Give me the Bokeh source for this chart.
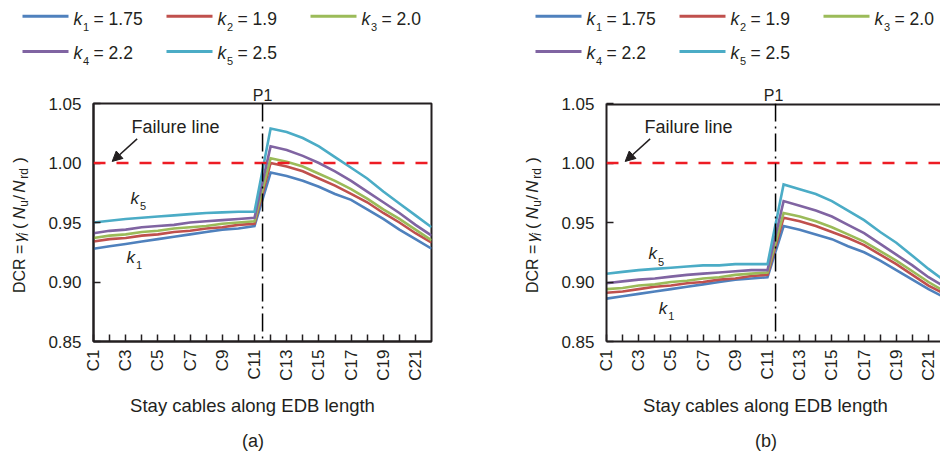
from math import pi
from bokeh.plotting import figure
from bokeh.models import Range1d, FixedTicker, Span, Label, Arrow, NormalHead
from bokeh.layouts import column, row
from bokeh.embed import file_html
from bokeh.resources import INLINE
from bokeh.core.properties import value

# ---------------- data ----------------
cables = list(range(1, 23))
x_tick_labels = ["C1", "", "C3", "", "C5", "", "C7", "", "C9", "", "C11", "",
                 "C13", "", "C15", "", "C17", "", "C19", "", "C21", ""]
y_ticks = [0.85, 0.90, 0.95, 1.00, 1.05]
y_tick_labels = ["0.85", "0.90", "0.95", "1.00", "1.05"]
k_subs = ["1", "2", "3", "4", "5"]
k_values = ["1.75", "1.9", "2.0", "2.2", "2.5"]
failure_dcr = 1.0
p1_position = 11.5

a_k1 = [0.928, 0.930, 0.932, 0.934, 0.936, 0.938, 0.940, 0.942, 0.944, 0.945, 0.947,
        0.992, 0.989, 0.985, 0.980, 0.974, 0.969, 0.961, 0.953, 0.944, 0.936, 0.928]
a_k2 = [0.934, 0.936, 0.937, 0.939, 0.940, 0.942, 0.943, 0.945, 0.946, 0.948, 0.949,
        1.000, 0.997, 0.993, 0.987, 0.981, 0.974, 0.967, 0.958, 0.950, 0.941, 0.933]
a_k3 = [0.937, 0.939, 0.940, 0.942, 0.943, 0.945, 0.946, 0.947, 0.949, 0.950, 0.951,
        1.004, 1.001, 0.997, 0.991, 0.985, 0.978, 0.970, 0.961, 0.953, 0.944, 0.935]
a_k4 = [0.941, 0.943, 0.944, 0.946, 0.947, 0.948, 0.950, 0.951, 0.952, 0.953, 0.954,
        1.014, 1.011, 1.006, 1.000, 0.993, 0.985, 0.976, 0.967, 0.958, 0.948, 0.939]
a_k5 = [0.950, 0.9515, 0.953, 0.954, 0.955, 0.956, 0.957, 0.958, 0.9585, 0.959, 0.959,
        1.029, 1.026, 1.021, 1.014, 1.005, 0.996, 0.987, 0.976, 0.966, 0.956, 0.946]

b_k1 = [0.886, 0.888, 0.890, 0.892, 0.894, 0.896, 0.898, 0.900, 0.902, 0.903, 0.904,
        0.947, 0.944, 0.940, 0.936, 0.930, 0.925, 0.918, 0.910, 0.902, 0.894, 0.887]
b_k2 = [0.891, 0.892, 0.894, 0.896, 0.897, 0.899, 0.900, 0.902, 0.903, 0.905, 0.906,
        0.954, 0.951, 0.947, 0.942, 0.937, 0.931, 0.923, 0.915, 0.906, 0.897, 0.890]
b_k3 = [0.894, 0.895, 0.897, 0.898, 0.900, 0.901, 0.903, 0.904, 0.906, 0.907, 0.908,
        0.958, 0.955, 0.951, 0.946, 0.940, 0.934, 0.926, 0.918, 0.909, 0.900, 0.892]
b_k4 = [0.899, 0.9005, 0.902, 0.903, 0.9045, 0.906, 0.907, 0.908, 0.909, 0.910, 0.910,
        0.968, 0.964, 0.960, 0.955, 0.948, 0.941, 0.932, 0.923, 0.914, 0.904, 0.896]
b_k5 = [0.907, 0.9085, 0.910, 0.911, 0.912, 0.913, 0.914, 0.914, 0.915, 0.915, 0.915,
        0.982, 0.978, 0.974, 0.968, 0.960, 0.952, 0.942, 0.933, 0.922, 0.911, 0.901]

series_a = [a_k1, a_k2, a_k3, a_k4, a_k5]
series_b = [b_k1, b_k2, b_k3, b_k4, b_k5]

colors = ["#4F81BD", "#C0504D", "#9BBB59", "#8064A2", "#4BACC6"]
FONT = "Liberation Sans"
INK = "#231f20"
RED = "#ed1c24"

# ---------------- layout constants (page pixels) ----------------
TOP_H = 80
MID_TOP = TOP_H
MID_H = 390 - TOP_H
BOT_H = 61
FRAME_TOP, FRAME_H = 103, 238
FRAME_BOT = FRAME_TOP + FRAME_H
SCALE = 16.1                    # px per cable
FRAME_LEFT_A, FRAME_LEFT_B = 93, 606


def aux_fig(x0, x1, height, y_range):
    p = figure(width=x1 - x0, height=height, x_range=Range1d(x0, x1), y_range=y_range,
               toolbar_location=None, output_backend="svg", min_border=0,
               x_axis_type=None, y_axis_type=None, outline_line_color=None)
    p.grid.visible = False
    return p


def txt(p, x, y, s, size, style="normal", align="left", angle=0.0):
    p.text(x=[x], y=[y], text=[s], text_font=value(FONT), text_font_size=size,
           text_font_style=style, text_color=INK, text_align=align,
           text_baseline="middle", angle=angle)


def top_fig(x0, x1, frame_left):
    p = aux_fig(x0, x1, TOP_H, Range1d(-TOP_H, 0))
    dx = frame_left - FRAME_LEFT_A
    col_x = [22, 166, 310]
    row_mid = [18, 52.5]
    row_line = [15.7, 51]
    for i in range(5):
        r, c = divmod(i, 3)
        xs = col_x[c] + dx
        p.line([xs, xs + 46], [-row_line[r], -row_line[r]], line_color=colors[i], line_width=3)
        txt(p, xs + 51, -row_mid[r], "k", "17.5px", style="italic")
        txt(p, xs + 60.5, -(row_mid[r] + 8.3), k_subs[i], "11px")
        txt(p, xs + 71, -row_mid[r], "= " + k_values[i], "17.5px")
    return p


def ylab_fig(x0, x1, frame_left):
    # frame of this figure is aligned by the row layout with the panel frame
    p = aux_fig(x0, x1, MID_H, Range1d(-FRAME_BOT, -FRAME_TOP))
    pieces = [("DCR =", 268.3, "16px", False, "normal"), ("\u03b3", 237.5, "17px", False, "italic"),
              ("i", 233.8, "12px", True, "italic"), ("(", 225.7, "17px", False, "normal"),
              ("N", 212.5, "17px", False, "italic"), ("u", 202.8, "12px", True, "normal"),
              ("/", 197, "17px", False, "normal"), ("N", 186, "17px", False, "italic"),
              ("rd", 173, "12px", True, "normal"), (")", 159.5, "17px", False, "normal")]
    for s, cy, size, is_sub, style in pieces:
        cx = frame_left - (69.5 if is_sub else 74)
        txt(p, cx, -cy, s, size, style=style, align="center", angle=pi / 2)
    return p


def bot_fig(x0, x1, frame_left, caption):
    y0 = MID_TOP + MID_H
    p = aux_fig(x0, x1, BOT_H, Range1d(-(y0 + BOT_H), -y0))
    txt(p, frame_left + 159, -405, "Stay cables along EDB length", "18.5px", align="center")
    txt(p, frame_left + 159.5, -440, caption, "18px", align="center")
    return p


def lab(p, text, x, y, xo=0, yo=0, size="18px", style="normal"):
    p.add_layout(Label(x=x, y=y, x_offset=xo, y_offset=yo, text=text, text_font=FONT,
                       text_font_size=size, text_font_style=style, text_color=INK,
                       text_align="left", text_baseline="middle"))


def panel(series, width, min_left, min_right, open_right, k5_pos, k1_pos):
    frame_w = width - min_left - min_right
    x_end = 1 + frame_w / SCALE
    p = figure(width=width, height=MID_H, x_range=Range1d(1, x_end),
               y_range=Range1d(0.85, 1.05), toolbar_location=None, output_backend="svg",
               min_border_left=min_left, min_border_right=min_right,
               min_border_top=FRAME_TOP - MID_TOP, min_border_bottom=MID_TOP + MID_H - FRAME_BOT)
    p.grid.visible = False

    # "P1" marker text above the frame (title centred on the frame, shifted to P1)
    p.title.text = "P1"
    p.title.align = "center"
    p.title.text_font = FONT
    p.title.text_font_size = "16px"
    p.title.text_font_style = "normal"
    p.title.text_color = INK
    p.title.standoff = 0
    p.title.offset = (p1_position - 1) * SCALE - frame_w / 2

    p.xaxis.ticker = FixedTicker(ticks=cables)
    p.xaxis.major_label_overrides = dict(zip(cables, x_tick_labels))
    p.xaxis.major_label_orientation = pi / 2
    p.xaxis.major_label_standoff = 8
    p.yaxis.ticker = FixedTicker(ticks=y_ticks)
    p.yaxis.major_label_overrides = dict(zip(y_ticks, y_tick_labels))
    p.yaxis.major_label_standoff = 12
    for ax in (p.xaxis, p.yaxis):
        ax.axis_line_color = INK
        ax.axis_line_width = 2
        ax.major_tick_line_color = INK
        ax.major_tick_line_width = 1.5
        ax.major_tick_in = 7
        ax.major_tick_out = 0
        ax.minor_tick_line_color = None
        ax.major_label_text_font = FONT
        ax.major_label_text_font_size = "17px"
        ax.major_label_text_color = INK

    if open_right:
        p.outline_line_color = None
        p.add_layout(Span(location=1.05, dimension="width", line_color=INK, line_width=4))
    else:
        p.outline_line_color = INK
        p.outline_line_width = 2
        p.outline_line_alpha = 1.0

    p.add_layout(Span(location=failure_dcr, dimension="width", line_color=RED,
                      line_width=2.5, line_dash="12 11"))
    p.add_layout(Span(location=p1_position, dimension="height", line_color="black",
                      line_width=1.5, line_dash="18 5 2 5"))

    for i, ys in enumerate(series):
        p.line(cables, ys, line_color=colors[i], line_width=2.6, line_join="miter")

    lab(p, "Failure line", 3.36, 1.0301, size="18px")
    p.add_layout(Arrow(end=NormalHead(size=10, fill_color=INK, line_color=INK),
                       x_start=3.71, y_start=1.0203, x_end=2.16, y_end=1.0013,
                       line_color=INK, line_width=1.5))
    for (kx, ky), sub in ((k5_pos, k_subs[4]), (k1_pos, k_subs[0])):
        lab(p, "k", kx, ky, size="17px", style="italic")
        lab(p, sub, kx, ky, xo=9.5, yo=-8, size="11px")
    return p


top_a = top_fig(0, 470, FRAME_LEFT_A)
top_b = top_fig(470, 940, FRAME_LEFT_B)
ylab_a = ylab_fig(0, 40, FRAME_LEFT_A)
ylab_b = ylab_fig(470, 550, FRAME_LEFT_B)
p_a = panel(series_a, 430, FRAME_LEFT_A - 40, 39, False, (3.30, 0.9702), (3.05, 0.9206))
p_b = panel(series_b, 390, FRAME_LEFT_B - 550, 0, True, (3.61, 0.9239), (4.24, 0.8781))
bot_a = bot_fig(0, 470, FRAME_LEFT_A, "(a)")
bot_b = bot_fig(470, 940, FRAME_LEFT_B, "(b)")

layout = column(row(top_a, top_b), row(ylab_a, p_a, ylab_b, p_b), row(bot_a, bot_b))
open("out.html", "w").write(file_html(layout, INLINE))
